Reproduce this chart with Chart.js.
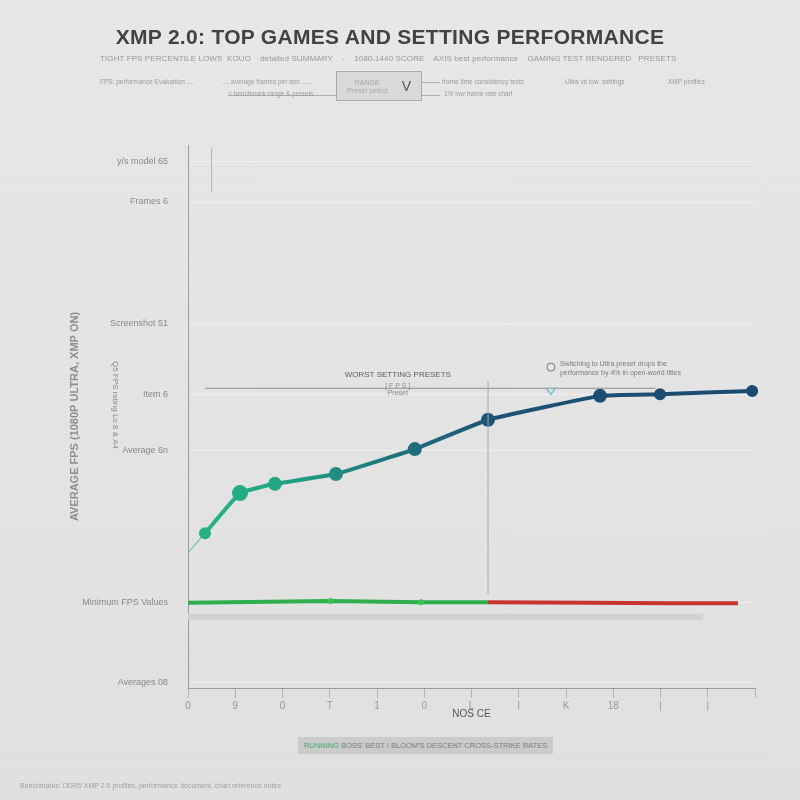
<!DOCTYPE html>
<html>
<head>
<meta charset="utf-8">
<script src="https://cdn.jsdelivr.net/npm/chart.js@4.4.0/dist/chart.umd.min.js"></script>
<style>
  html, body { margin: 0; padding: 0; }
  body { width: 800px; height: 800px; position: relative; overflow: hidden;
         background: linear-gradient(#e7e7e7, #e0e0e0); font-family: "Liberation Sans", Arial, sans-serif; }
  #chart { position: absolute; left: 0; top: 0; }
  .txt { position: absolute; white-space: nowrap; color: #8a8a8a; }
  #title { left: 0; width: 780px; top: 25px; text-align: center; font-size: 21px; font-weight: bold;
           color: #424242; letter-spacing: 0.3px; }
  #sub { left: 100px; top: 54px; font-size: 8px; color: #979797; letter-spacing: 0.1px; }
  .small { font-size: 6.5px; color: #9a9a9a; }
  #picker { position: absolute; left: 336px; top: 71px; width: 86px; height: 30px; box-sizing: border-box;
            border: 1px solid #ababab; background: #d9d9d9; }
  #picker .lbl { position: absolute; left: 10px; top: 7px; font-size: 7px; color: #a8a8a8; line-height: 8px; }
  #picker .v { position: absolute; right: 10px; top: 6px; font-size: 14px; color: #555; }
  .rule { position: absolute; height: 1px; background: #b0b0b0; }
  #legend { position: absolute; left: 298px; top: 737px; width: 255px; height: 17px; background: #cbcbcb;
            font-size: 7.5px; line-height: 17px; color: #7d7d7d; text-align: center; white-space: nowrap; overflow: hidden; }
  #legend b { color: #3aa872; font-weight: normal; }
  #foot { left: 20px; top: 782px; font-size: 7px; color: #a0a0a0; }
</style>
</head>
<body>
<canvas id="chart" width="800" height="800"></canvas>

<div id="title" class="txt">XMP 2.0: TOP GAMES AND SETTING PERFORMANCE</div>
<div id="sub" class="txt">TIGHT FPS PERCENTILE LOWS &nbsp;KOUO &nbsp;&nbsp; detailed SUMMARY &nbsp;&nbsp; - &nbsp;&nbsp; 1080-1440 SCORE &nbsp;&nbsp; AXIS best performance &nbsp;&nbsp; GAMING TEST RENDERED &nbsp; PRESETS</div>
<div class="txt small" style="left:100px;top:78px;">FPS: performance Evaluation ....</div>
<div class="txt small" style="left:222px;top:78px;">.... average frames per test ......</div>
<div class="rule" style="left:228px;top:95px;width:108px;"></div>
<div class="txt small" style="left:228px;top:90px;">&lt; benchmark range &amp; presets .</div>
<div id="picker"><div class="lbl">&nbsp;&nbsp;&nbsp;&nbsp;RANGE<br>Preset select</div><div class="v">V</div></div>
<div class="rule" style="left:422px;top:82px;width:18px;"></div>
<div class="txt small" style="left:442px;top:78px;">frame time consistency tests</div>
<div class="txt small" style="left:565px;top:78px;">Ultra vs low &nbsp;settings</div>
<div class="txt small" style="left:668px;top:78px;">XMP profiles</div>
<div class="rule" style="left:422px;top:95px;width:18px;"></div>
<div class="txt small" style="left:444px;top:90px;">1% low frame rate chart</div>

<div id="legend"><b>RUNNING</b> BOSS' BEST / BLOOM'S DESCENT CROSS-STRIKE RATES</div>
<div id="foot" class="txt">Benchmarks: DDR5 XMP 2.0 profiles, performance document, chart reference notes</div>

<script>
// x positions of the benchmark runs and average fps
const runX = [0, 0.36, 1.1, 1.84, 3.13, 4.8, 6.35, 8.72, 9.99, 11.94];
const avgFps = [24.9, 28.5, 35.9, 37.6, 39.4, 44.0, 49.4, 53.8, 54.1, 54.7];

// minimum fps line, green up to the preset change then red
const minX = [0, 3.02, 4.93, 6.35, 8.5, 10.2, 11.64];
const minFps = [15.7, 16.0, 15.8, 15.8, 15.7, 15.6, 15.6];
const presetChangeX = 6.35;

// light baseline band under the minimum line
const baseX = [0, 10.9];
const baseFps = [13.1, 13.1];

// reference level for worst setting presets
const targetFps = 55.2;
const targetFrom = 0.36;
const targetTo = 9.9;

const yTickValues = [1, 15.7, 43.8, 54, 67.2, 89.5, 96.9];
const yTickLabels = ['Averages 08', 'Minimum FPS Values', 'Average 6n', 'Item 6', 'Screenshot 51', 'Frames 6', 'y/s model 65'];
const xTickLabels = ['0', '9', '0', 'T', '1', '0', 'L', 'I', 'K', '18', '|', '|', ''];

function lineGradient(context) {
  const chart = context.chart;
  const area = chart.chartArea;
  if (!area) return '#1f7f80';
  const g = chart.ctx.createLinearGradient(area.left, 0, area.right, 0);
  g.addColorStop(0, '#23b686');
  g.addColorStop(0.16, '#22a583');
  g.addColorStop(0.38, '#1f6f7c');
  g.addColorStop(0.55, '#1c5275');
  g.addColorStop(1, '#1b4a6f');
  return g;
}

// annotations: reference line, preset change marker, notes
const notes = {
  id: 'notes',
  afterDatasetsDraw(chart) {
    const c = chart.ctx;
    const x = chart.scales.x, y = chart.scales.y;
    c.save();
    // target line
    c.strokeStyle = '#8e8e8e';
    c.lineWidth = 1;
    c.beginPath();
    c.moveTo(x.getPixelForValue(targetFrom), y.getPixelForValue(targetFps));
    c.lineTo(x.getPixelForValue(targetTo), y.getPixelForValue(targetFps));
    c.stroke();
    // preset change marker
    c.strokeStyle = '#a9a9a9';
    c.beginPath();
    c.moveTo(x.getPixelForValue(presetChangeX), y.getPixelForValue(56.5));
    c.lineTo(x.getPixelForValue(presetChangeX), y.getPixelForValue(minFps[3] + 1.5));
    c.stroke();
    // small marker at top left
    c.strokeStyle = '#b3b3b3';
    c.beginPath();
    c.moveTo(x.getPixelForValue(0.5), y.getPixelForValue(99.5));
    c.lineTo(x.getPixelForValue(0.5), y.getPixelForValue(91.5));
    c.stroke();

    c.fillStyle = '#5c5c5c';
    c.textAlign = 'center';
    c.font = '8px "Liberation Sans"';
    const lx = x.getPixelForValue(4.44), ly = y.getPixelForValue(57.3);
    c.fillText('WORST SETTING PRESETS', lx, ly);
    c.fillStyle = '#8a8a8a';
    c.font = '7px "Liberation Sans"';
    c.fillText('[ F P S ]', lx, ly + 11);
    c.fillText('Preset', lx, ly + 18);

    // callout
    const cx = x.getPixelForValue(7.68), cy = y.getPixelForValue(59.1);
    c.strokeStyle = '#777';
    c.beginPath();
    c.arc(cx, cy, 4, 0, Math.PI * 2);
    c.stroke();
    c.textAlign = 'left';
    c.fillStyle = '#7c7c7c';
    c.fillText('Switching to Ultra preset drops the', cx + 9, cy - 1);
    c.fillText('performance by 4% in open-world titles', cx + 9, cy + 8);
    c.strokeStyle = '#6fc6d6';
    c.lineWidth = 1.5;
    const ty = y.getPixelForValue(54.6);
    c.beginPath();
    c.moveTo(cx - 5, ty - 4);
    c.lineTo(cx, ty + 3);
    c.lineTo(cx + 5, ty - 4);
    c.stroke();

    // second rotated label
    c.translate(113, 405);
    c.rotate(Math.PI / 2);
    c.textAlign = 'center';
    c.fillStyle = '#8d8d8d';
    c.font = '8px "Liberation Sans"';
    c.fillText('Q5 FPS rating Lo 8 & A4', 0, 0);
    c.restore();
  }
};

new Chart(document.getElementById('chart'), {
  type: 'line',
  data: {
    datasets: [{
      label: 'Average FPS',
      data: runX.map((v, i) => ({ x: v, y: avgFps[i] })),
      borderColor: lineGradient,
      pointBackgroundColor: lineGradient,
      pointBorderColor: lineGradient,
      borderWidth: 4,
      pointRadius: [0, 4, 6, 5, 5, 5, 5, 5, 4, 4],
      segment: {
        borderWidth: s => s.p0DataIndex === 0 ? 1 : 4
      },
      tension: 0.1,
      clip: false
    }, {
      label: 'Minimum FPS',
      data: minX.map((v, i) => ({ x: v, y: minFps[i] })),
      borderWidth: 4,
      borderColor: '#2fae4c',
      segment: {
        borderColor: s => s.p0.parsed.x >= presetChangeX ? '#c8352f' : '#2fae4c'
      },
      pointRadius: [0, 3, 3, 0, 0, 0, 0],
      pointBackgroundColor: '#3ac651',
      pointBorderWidth: 0
    }, {
      label: 'Baseline',
      data: baseX.map((v, i) => ({ x: v, y: baseFps[i] })),
      borderColor: '#d2d2d2',
      borderWidth: 6,
      pointRadius: 0
    }]
  },
  options: {
    responsive: false,
    animation: false,
    layout: { padding: { top: 145, right: 45, bottom: 72, left: 0 } },
    plugins: { legend: { display: false }, tooltip: { enabled: false } },
    scales: {
      x: {
        type: 'linear',
        min: 0,
        max: 12,
        afterFit: s => { s.height = 40; },
        border: { color: '#9c9c9c' },
        grid: { drawOnChartArea: false, tickLength: 10, color: '#b4b4b4' },
        ticks: {
          stepSize: 1,
          color: '#999',
          font: { size: 10, family: 'Liberation Sans' },
          padding: 2,
          callback: (v, i) => xTickLabels[i] ?? ''
        },
        title: {
          display: true,
          text: 'NOS CE',
          color: '#555',
          font: { size: 10, family: 'Liberation Sans' },
          padding: { top: 0, bottom: 8 }
        }
      },
      y: {
        min: 0,
        max: 100,
        afterFit: s => { s.width = 188; },
        afterBuildTicks: s => { s.ticks = yTickValues.map(v => ({ value: v })); },
        border: { color: '#9c9c9c' },
        grid: { color: '#f0f0f0', lineWidth: 1, drawTicks: false },
        ticks: {
          color: '#888',
          font: { size: 9, family: 'Liberation Sans' },
          padding: 20,
          callback: (v, i) => yTickLabels[i]
        },
        title: {
          display: true,
          text: 'AVERAGE FPS (1080P ULTRA, XMP ON)',
          color: '#8f8f8f',
          font: { size: 11, weight: 'bold', family: 'Liberation Sans' },
          padding: { top: 68, bottom: 0 }
        }
      }
    }
  },
  plugins: [notes]
});
</script>
</body>
</html>
